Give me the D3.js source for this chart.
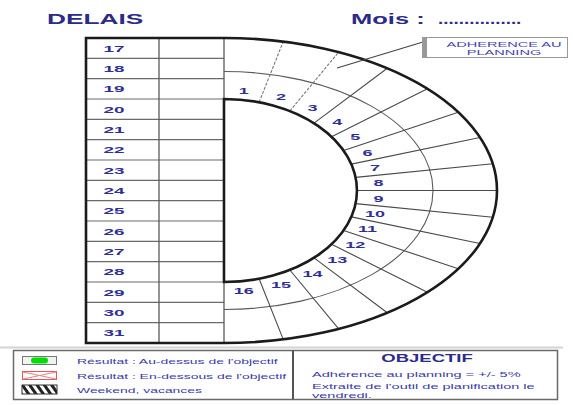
<!DOCTYPE html>
<html>
<head>
<meta charset="utf-8">
<script src="https://cdn.jsdelivr.net/npm/d3@7"></script>
<style>
  body { margin: 0; background: #fff; }
  svg { display: block; }
</style>
</head>
<body>
<script>
// data: day numbers in the table and in the half ring, legend texts
var tableDays = [17, 18, 19, 20, 21, 22, 23, 24, 25, 26, 27, 28, 29, 30, 31];
var ringDays = [1, 2, 3, 4, 5, 6, 7, 8, 9, 10, 11, 12, 13, 14, 15, 16];
var legendLabels = [
  "Résultat : Au-dessus de l'objectif",
  "Résultat : En-dessous de l'objectif",
  "Weekend, vacances"
];
var objectifTitle = "OBJECTIF";
var objectifLines = [
  "Adhérence au planning = +/- 5%",
  "Extraite de l'outil de planification le",
  "vendredi."
];
var calloutLines = ["ADHERENCE AU", "PLANNING"];

var width = 573, height = 405;
var font = "'Liberation Sans', Arial, sans-serif";
var blue = "#2f2f99";

var svg = d3.select("body").append("svg")
    .attr("width", width)
    .attr("height", height);

var defs = svg.append("defs");
defs.append("pattern")
    .attr("id", "hatch")
    .attr("patternUnits", "userSpaceOnUse")
    .attr("width", 6).attr("height", 6)
    .attr("patternTransform", "rotate(-35)")
  .append("rect")
    .attr("width", 3).attr("height", 6)
    .attr("fill", "#222");

// scales: rows of the table, angle of the ring sectors
var y = d3.scaleBand().domain(tableDays).range([38, 343]);
var angle = d3.scaleLinear().domain([0, ringDays.length]).range([0, Math.PI]);

var x0 = 86, xCol = 159, cx = 224;
var cy = (y.range()[0] + y.range()[1]) / 2;
var inner = {rx: 133, ry: y.bandwidth() * 4.5},
    middle = {rx: 209, ry: 119},
    outer = {rx: 273, ry: (y.range()[1] - y.range()[0]) / 2},
    labelRing = {rx: 155, ry: 101};

// point on an ellipse along the sector direction t
function onEllipse(t, e) {
  var dx = 2 * Math.sin(t), dy = -Math.cos(t);
  var l = 1 / Math.sqrt(Math.pow(dx / e.rx, 2) + Math.pow(dy / e.ry, 2));
  return [cx + l * dx, cy + l * dy];
}

// horizontally stretched text, like the source picture
function stext(g, x, yy, str, size, sx, anchor, weight, fill) {
  return g.append("text")
      .attr("transform", "translate(" + x + "," + yy + ") scale(" + sx + ",1)")
      .attr("text-anchor", anchor || "start")
      .attr("font-family", font)
      .attr("font-size", size)
      .attr("font-weight", weight || "normal")
      .attr("fill", fill || blue)
      .text(str);
}

// titles
stext(svg, 47, 23.5, "DELAIS", 15, 1.75, "start", "bold", "#2b2b8a");
stext(svg, 351, 23.5, "Mois : ", 15, 1.7, "start", "bold", "#2b2b8a");
stext(svg, 438, 23.5, "................", 15, 1.25, "start", "bold", "#2b2b8a");

// table grid
var grid = svg.append("g");
grid.selectAll(".row")
    .data(tableDays.slice(1))
  .enter().append("line")
    .attr("x1", x0).attr("x2", cx)
    .attr("y1", function(d) { return y(d); })
    .attr("y2", function(d) { return y(d); })
    .attr("stroke", "#6a6a6a").attr("stroke-width", 1.1);

[xCol, cx].forEach(function(x) {
  grid.append("line")
      .attr("x1", x).attr("x2", x)
      .attr("y1", y.range()[0]).attr("y2", y.range()[1])
      .attr("stroke", "#5a5a5a").attr("stroke-width", 1.3);
});

tableDays.forEach(function(d) {
  stext(grid, 114, y(d) + y.bandwidth() / 2 + 3.5, d, 9, 2.1, "middle", "bold");
});

// ring: middle arc and sector dividers
var ring = svg.append("g");
ring.append("path")
    .attr("d", "M" + cx + "," + (cy - middle.ry) + " A" + middle.rx + " " + middle.ry + " 0 0 1 " + cx + "," + (cy + middle.ry))
    .attr("fill", "none")
    .attr("stroke", "#5a5a5a").attr("stroke-width", 1.1);

ring.selectAll(".divider")
    .data(ringDays.slice(1))
  .enter().append("line")
    .each(function(d, i) {
      var t = angle(i + 1), a = onEllipse(t, inner), b = onEllipse(t, outer);
      d3.select(this)
        .attr("x1", a[0]).attr("y1", a[1])
        .attr("x2", b[0]).attr("y2", b[1]);
    })
    .attr("stroke", function(d, i) { return i < 2 ? "#777" : "#4a4a4a"; })
    .attr("stroke-dasharray", function(d, i) { return i < 2 ? "3,1.5" : null; })
    .attr("stroke-width", 1.1);

ringDays.forEach(function(d, i) {
  var p = onEllipse(angle(i + 0.5), labelRing);
  stext(ring, p[0], p[1] + 3.5, d, 9, 2.0, "middle", "bold");
});

// thick outlines: table + outer arc, inner half disc
svg.append("path")
    .attr("d", "M" + x0 + "," + y.range()[0] + " H" + cx +
      " A" + outer.rx + " " + outer.ry + " 0 0 1 " + cx + "," + y.range()[1] +
      " H" + x0 + " Z")
    .attr("fill", "none")
    .attr("stroke", "#1b1b1b").attr("stroke-width", 2.6);

svg.append("path")
    .attr("d", "M" + cx + "," + (cy - inner.ry) +
      " A" + inner.rx + " " + inner.ry + " 0 0 1 " + cx + "," + (cy + inner.ry) + " Z")
    .attr("fill", "#fff")
    .attr("stroke", "#1b1b1b").attr("stroke-width", 2.6);

// callout
var call = svg.append("g");
call.append("line")
    .attr("x1", 423).attr("y1", 42).attr("x2", 337).attr("y2", 68)
    .attr("stroke", "#444").attr("stroke-width", 1.1);
call.append("rect")
    .attr("x", 422.5).attr("y", 37.5).attr("width", 145).attr("height", 20)
    .attr("fill", "#fff").attr("stroke", "#999");
call.append("rect")
    .attr("x", 422).attr("y", 37).attr("width", 5).attr("height", 21)
    .attr("fill", "#999");
calloutLines.forEach(function(s, i) {
  stext(call, 504, 46.5 + i * 8, s, 6.5, 2.25, "middle", "normal", "#4646b4");
});

// separator
svg.append("line")
    .attr("x1", 0).attr("x2", 563).attr("y1", 347.5).attr("y2", 347.5)
    .attr("stroke", "#d4d4d4").attr("stroke-width", 2);

// legend
var leg = svg.append("g");
leg.append("rect")
    .attr("x", 13.5).attr("y", 350.5).attr("width", 544).attr("height", 49)
    .attr("fill", "#fff").attr("stroke", "#6a6a6a").attr("stroke-width", 1.5);
leg.append("line")
    .attr("x1", 293).attr("x2", 293).attr("y1", 350.5).attr("y2", 399.5)
    .attr("stroke", "#555").attr("stroke-width", 2);

var iconY = [356, 371, 385];
leg.append("rect").attr("x", 22.5).attr("y", iconY[0] + 0.5).attr("width", 34).attr("height", 8)
    .attr("fill", "#f2f2f2").attr("stroke", "#777");
leg.append("rect").attr("x", 31).attr("y", iconY[0] + 1.5).attr("width", 17).attr("height", 6).attr("rx", 3)
    .attr("fill", "#00e000");
leg.append("rect").attr("x", 22.5).attr("y", iconY[1] + 0.5).attr("width", 34).attr("height", 8)
    .attr("fill", "#fff").attr("stroke", "#e05a5a");
leg.append("path")
    .attr("d", "M23," + (iconY[1] + 1) + " L39.5," + (iconY[1] + 4.5) + " L56," + (iconY[1] + 1) +
      " M23," + (iconY[1] + 8) + " L39.5," + (iconY[1] + 4.5) + " L56," + (iconY[1] + 8))
    .attr("fill", "none").attr("stroke", "#f08080");
leg.append("rect").attr("x", 22).attr("y", iconY[2]).attr("width", 35).attr("height", 9)
    .attr("fill", "url(#hatch)").attr("stroke", "#333");

legendLabels.forEach(function(s, i) {
  stext(leg, 77, iconY[i] + 8, s, 8, 1.74, "start", "normal", "#3a3aac");
});

stext(leg, 427, 362, objectifTitle, 10, 1.85, "middle", "bold", "#2b2b8a");
var objY = [376.5, 389, 397.5];
objectifLines.forEach(function(s, i) {
  stext(leg, 312, objY[i], s, 8, 1.82, "start", "normal", "#3a3aac");
});
</script>
</body>
</html>
